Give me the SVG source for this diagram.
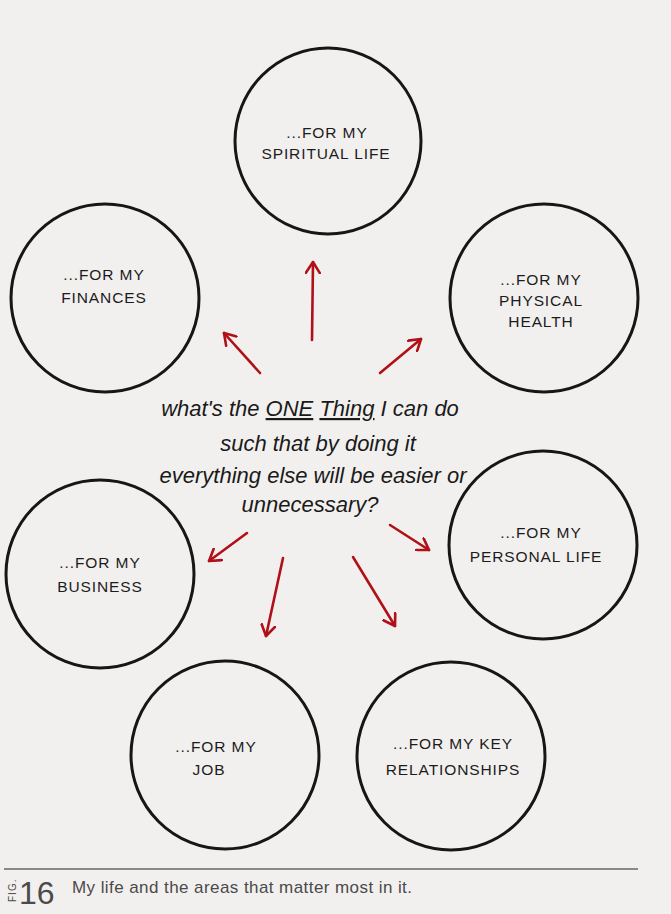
<svg xmlns="http://www.w3.org/2000/svg" width="671" height="914" viewBox="0 0 671 914">
<defs>
<style>
.bg{fill:#f2f0ee}
.c{fill:none;stroke:#161616;stroke-width:3}
.lb{font-family:"Liberation Sans","DejaVu Sans",sans-serif;font-size:15.5px;fill:#1c1c1c;text-anchor:middle;letter-spacing:0.9px}
.q{font-family:"Liberation Sans","DejaVu Sans",sans-serif;font-style:italic;font-size:22px;fill:#1a1a1a;text-anchor:middle}
.ar{stroke:#b01018;stroke-width:2.6;fill:none;stroke-linecap:round;stroke-linejoin:round;marker-end:url(#h)}
.cap{font-family:"Liberation Sans","DejaVu Sans",sans-serif;fill:#4a4a4a}
</style>
<marker id="h" viewBox="-12 -8 14 16" refX="0" refY="0" markerWidth="14" markerHeight="16" markerUnits="userSpaceOnUse" orient="auto">
<path d="M-11,-7 L0,0 L-11,7" fill="none" stroke="#b01018" stroke-width="2.6" stroke-linecap="round" stroke-linejoin="round"/>
</marker>
</defs>
<rect class="bg" x="0" y="0" width="671" height="914"/>

<g id="spiritual">
<circle class="c" cx="328" cy="141" r="93"/>
<text class="lb" x="327" y="138">...FOR MY</text>
<text class="lb" x="326" y="159">SPIRITUAL LIFE</text>
</g>
<g id="finances">
<circle class="c" cx="105" cy="298" r="94"/>
<text class="lb" x="104" y="280">...FOR MY</text>
<text class="lb" x="104" y="303">FINANCES</text>
</g>
<g id="physical">
<circle class="c" cx="544" cy="298" r="94"/>
<text class="lb" x="541" y="285">...FOR MY</text>
<text class="lb" x="541" y="306">PHYSICAL</text>
<text class="lb" x="541" y="327">HEALTH</text>
</g>
<g id="business">
<circle class="c" cx="100" cy="574" r="94"/>
<text class="lb" x="100" y="568">...FOR MY</text>
<text class="lb" x="100" y="592">BUSINESS</text>
</g>
<g id="personal">
<circle class="c" cx="543" cy="545" r="94"/>
<text class="lb" x="541" y="538">...FOR MY</text>
<text class="lb" x="536" y="562">PERSONAL LIFE</text>
</g>
<g id="job">
<circle class="c" cx="225" cy="755" r="94"/>
<text class="lb" x="216" y="752">...FOR MY</text>
<text class="lb" x="209" y="775">JOB</text>
</g>
<g id="relationships">
<circle class="c" cx="451" cy="756" r="94"/>
<text class="lb" x="453" y="749">...FOR MY KEY</text>
<text class="lb" x="453" y="775">RELATIONSHIPS</text>
</g>

<g id="question">
<text class="q" x="310" y="416">what's the <tspan text-decoration="underline">ONE</tspan> <tspan text-decoration="underline">Thing</tspan> I can do</text>
<text class="q" x="318" y="451">such that by doing it</text>
<text class="q" x="313" y="483">everything else will be easier or</text>
<text class="q" x="310" y="512">unnecessary?</text>
</g>

<g id="connectors">
<path class="ar" d="M312,340 L313,262"/>
<path class="ar" d="M260,373 L224,333"/>
<path class="ar" d="M380,373 L421,339"/>
<path class="ar" d="M247,533 L209,561"/>
<path class="ar" d="M283,558 L266,636"/>
<path class="ar" d="M353,557 L395,626"/>
<path class="ar" d="M390,525 L429,550"/>
</g>

<g id="caption">
<line x1="4" y1="869" x2="638" y2="869" stroke="#222" stroke-width="1.2"/>
<text class="cap" transform="translate(16,902) rotate(-90)" font-size="10" letter-spacing="1" fill="#666">FIG.</text>
<text class="cap" x="19" y="904" font-size="32" fill="#777">16</text>
<text class="cap" x="72" y="893" font-size="17" fill="#333" textLength="340" lengthAdjust="spacing">My life and the areas that matter most in it.</text>
</g>
</svg>
